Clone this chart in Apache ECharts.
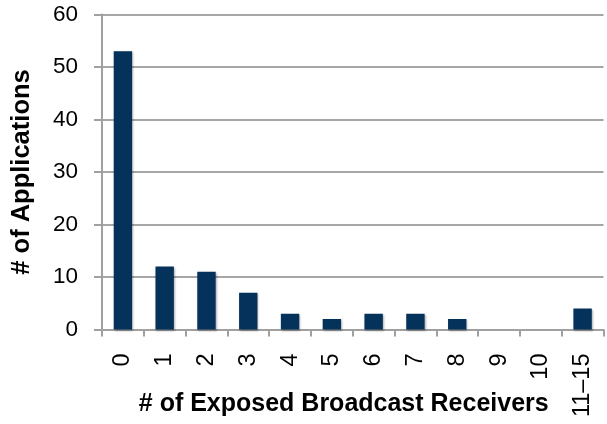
<!DOCTYPE html>
<html>
<head>
<meta charset="utf-8">
<script src="https://cdn.jsdelivr.net/npm/echarts@6/dist/echarts.min.js"></script>
<style>html,body{margin:0;padding:0;background:#fff;}#c{width:607px;height:424px;}</style>
</head>
<body>
<div id="c"></div>
<script>
var categories = ['0','1','2','3','4','5','6','7','8','9','10','11–15'];
var applications = [53, 12, 11, 7, 3, 2, 3, 3, 2, 0, 0, 4];
var yTicks = [0, 10, 20, 30, 40, 50, 60];

var chart = echarts.init(document.getElementById('c'), null, {renderer: 'canvas'});
chart.setOption({
  animation: false,
  backgroundColor: '#ffffff',
  textStyle: {fontFamily: 'Liberation Sans, Arial, sans-serif'},
  grid: {left: 102, right: 3.5, top: 14.5, bottom: 94.5, containLabel: false, outerBoundsMode: 'none'},
  xAxis: {
    type: 'category',
    data: categories,
    name: '# of Exposed Broadcast Receivers',
    nameLocation: 'middle',
    nameGap: 62,
    nameMoveOverlap: false,
    nameTextStyle: {fontSize: 25, fontWeight: 'bold', color: '#000', padding: [0, 18, 0, 0]},
    axisLine: {lineStyle: {color: '#a0a0a0', width: 2}},
    axisTick: {show: true, length: 7, alignWithLabel: false, lineStyle: {color: '#a0a0a0', width: 2}},
    axisLabel: {rotate: 90, fontSize: 23.5, color: '#000', margin: 24, interval: 0}
  },
  yAxis: {
    type: 'value',
    min: yTicks[0],
    max: yTicks[yTicks.length - 1],
    interval: 10,
    name: '# of Applications',
    nameLocation: 'middle',
    nameRotate: 90,
    nameGap: 67,
    nameMoveOverlap: false,
    nameTextStyle: {fontSize: 25.5, fontWeight: 'bold', color: '#000'},
    axisLine: {show: true, lineStyle: {color: '#a0a0a0', width: 2}},
    axisTick: {show: true, length: 8, lineStyle: {color: '#a0a0a0', width: 2}},
    axisLabel: {fontSize: 22.5, color: '#000', margin: 24, padding: [5, 0, 0, 0]},
    splitLine: {lineStyle: {color: '#a6a6a6', width: 2}}
  },
  series: [{
    type: 'bar',
    data: applications,
    barWidth: '44%',
    itemStyle: {color: '#05325a', shadowColor: 'rgba(0,0,0,0.3)', shadowBlur: 2, shadowOffsetX: 1, shadowOffsetY: 1}
  }]
});
</script>
</body>
</html>
